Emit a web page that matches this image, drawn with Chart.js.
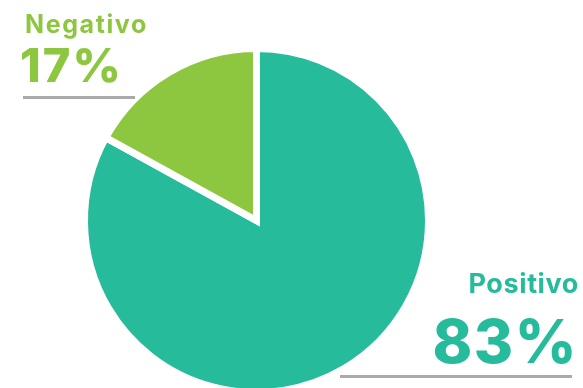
<!DOCTYPE html>
<html>
<head>
<meta charset="utf-8">
<script src="https://cdn.jsdelivr.net/npm/chart.js@4/dist/chart.umd.min.js"></script>
<style>
  html, body { margin: 0; padding: 0; background: #fff; overflow: hidden; }
  #wrap { width: 583px; height: 388px; position: relative; overflow: hidden; }
</style>
</head>
<body>
<div id="wrap"><canvas id="c" width="583" height="400"></canvas></div>
<script>
// Sentiment split
const categories = ['Positivo', 'Negativo'];
const values = [83, 17];
const colors = ['#25BB9B', '#8DC63F'];

// Callout labels: name + percentage, with an underline rule
const calloutPlugin = {
  id: 'callouts',
  afterDraw(chart) {
    const ctx = chart.ctx;
    const fam = '"Inter", "Open Sans", sans-serif';
    ctx.save();
    ctx.textBaseline = 'alphabetic';
    // Negativo (top-left)
    ctx.fillStyle = colors[1];
    ctx.textAlign = 'left';
    ctx.font = `700 25px ${fam}`;
    ctx.letterSpacing = '1.6px';
    ctx.fillText(categories[1], 25, 33);
    ctx.font = `800 47px ${fam}`;
    ctx.letterSpacing = '2px';
    ctx.fillText(values[1] + '%', 20, 82);
    ctx.fillStyle = '#aaaaaa';
    ctx.fillRect(23, 96, 112, 3);
    // Positivo (bottom-right)
    ctx.fillStyle = colors[0];
    ctx.textAlign = 'right';
    ctx.font = `700 27px ${fam}`;
    ctx.letterSpacing = '0.6px';
    ctx.fillText(categories[0], 579, 293);
    ctx.font = `800 60px ${fam}`;
    ctx.letterSpacing = '1.5px';
    ctx.fillText(values[0] + '%', 578, 363);
    ctx.fillStyle = '#aaaaaa';
    ctx.fillRect(340, 375, 232, 3);
    ctx.restore();
  }
};

new Chart(document.getElementById('c'), {
  type: 'pie',
  data: {
    labels: categories,
    datasets: [{
      data: values,
      backgroundColor: colors,
      borderColor: '#ffffff',
      borderWidth: 7,
      borderJoinStyle: 'miter'
    }]
  },
  options: {
    responsive: false,
    animation: false,
    layout: { padding: { left: 81, right: 151, top: 45, bottom: 4 } },
    plugins: {
      legend: { display: false },
      tooltip: { enabled: false }
    }
  },
  plugins: [calloutPlugin]
});
</script>
</body>
</html>
